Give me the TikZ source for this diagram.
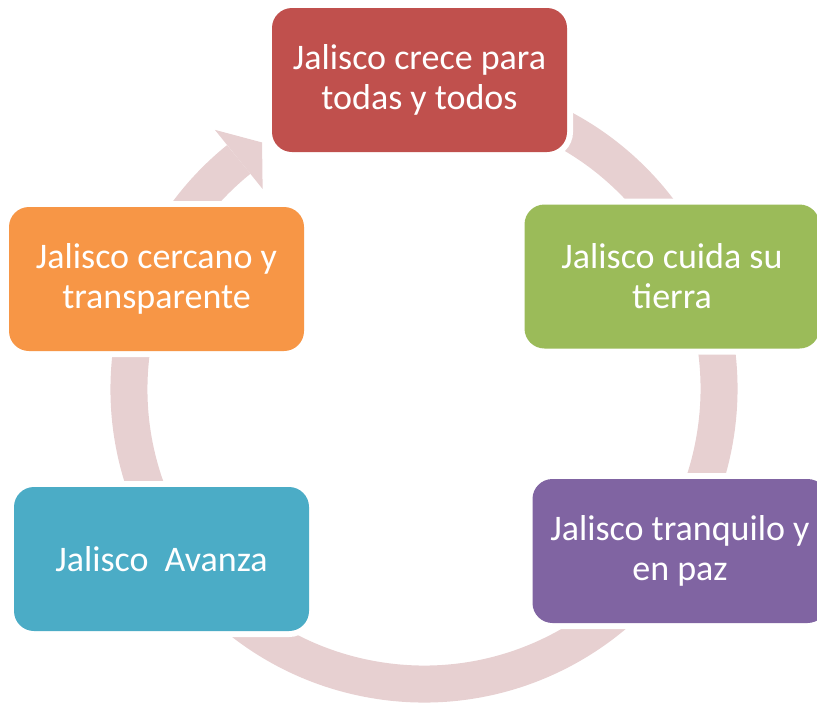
\documentclass[tikz,border=0pt]{standalone}
\usepackage{fontspec}
\setmainfont{Carlito}
\usetikzlibrary{calc}
\definecolor{ringcol}{RGB}{231,208,209}
\definecolor{cred}{RGB}{192,80,77}
\definecolor{cgreen}{RGB}{155,187,89}
\definecolor{cpurple}{RGB}{128,100,162}
\definecolor{cblue}{RGB}{75,172,198}
\definecolor{corange}{RGB}{247,150,70}
\begin{document}
\begin{tikzpicture}[x=1pt,y=-1pt,
  box/.style={rectangle, rounded corners=20pt, minimum width=295pt, minimum height=144pt,
    inner sep=0pt, align=center, text=white, font=\fontsize{36}{40}\selectfont,
    preaction={draw=white, line width=12pt}}]
\useasboundingbox (0,0) rectangle (817,702);
\coordinate (c) at (424,389);
% ring
\draw[ringcol, line width=37pt] ($(c)+(-80:295)$) arc[start angle=-80, end angle=231.1, radius=295];
\coordinate (b1) at ($(c)+(231.1:333)$);
\coordinate (b2) at ($(c)+(231.1:257)$);
\coordinate (tip) at ($(c)+(236.7:295)$);
\fill[ringcol] (b1) -- (tip) -- (b2) -- cycle;
% boxes
\node[box, fill=cred] (n1) at (419.5,80) {Jalisco crece para\\todas y todos};
\node[box, fill=cgreen] (n2) at (672,276.5) {Jalisco cuida su\\tierra};
\node[box, fill=cpurple] (n3) at (680,551) {Jalisco tranquilo y\\en paz};
\node[box, fill=cblue] (n4) at (161.5,559) {Jalisco\ \ Avanza};
\node[box, fill=corange] (n5) at (156.5,279) {Jalisco cercano y\\transparente};
\end{tikzpicture}
\end{document}
